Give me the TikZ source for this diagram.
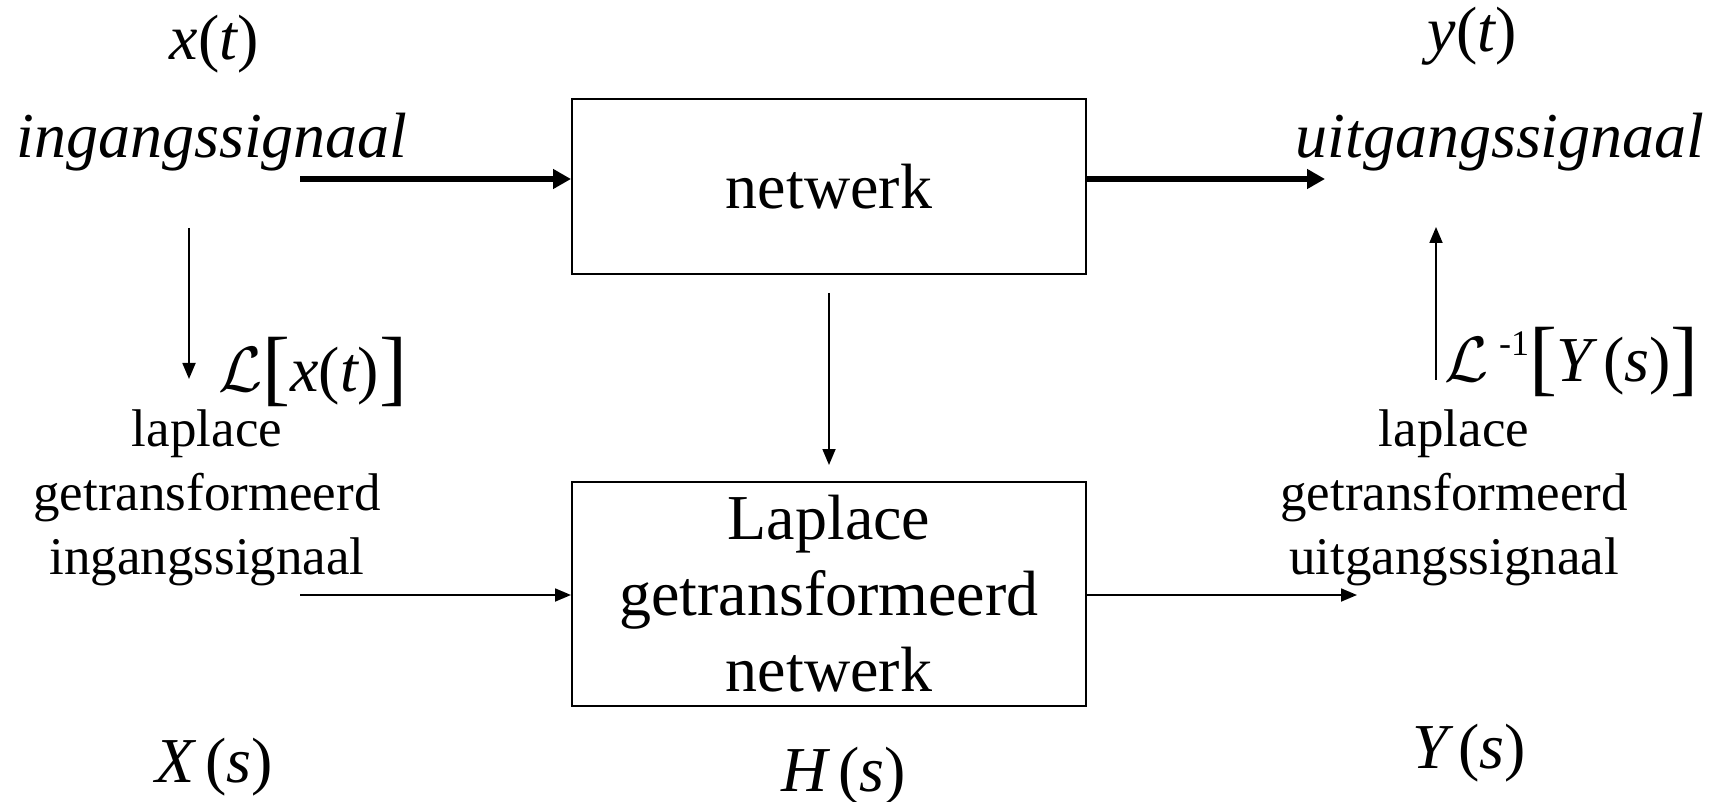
\documentclass[tikz,border=0pt]{standalone}
\usepackage{fix-cm}
\usepackage{fontspec}
\setmainfont{Liberation Serif}
\usetikzlibrary{arrows.meta}
\newcommand{\bigbr}[1]{{\fontsize{84}{84}\selectfont\raisebox{-4pt}{#1}}}
\begin{document}
\begin{tikzpicture}[x=1pt,y=-1pt,
  lbl/.style={font=\fontsize{64}{76}\selectfont, inner sep=0pt},
  side/.style={font=\fontsize{53}{64}\selectfont, align=center, inner sep=0pt},
  blok/.style={draw, line width=2pt, inner sep=0pt, align=center,
               font=\fontsize{64}{76}\selectfont, minimum width=514pt},
  thickarr/.style={line width=5.5pt, -{Triangle[length=18pt,width=19pt]}},
  thinarr/.style={line width=1.8pt, -{Triangle[length=16pt,width=13pt]}}]
\useasboundingbox (0,0) rectangle (1725,802);

% boxes
\node[blok, minimum height=175pt] (net) at (829,186.5) {netwerk};
\node[blok, minimum height=224pt] (lnet) at (829,594) {Laplace\\getransformeerd\\netwerk};

% top labels
\node[lbl] (xt) at (214,44) {\itshape x\upshape(\itshape t\upshape)};
\node[lbl] (insig) at (212,142) {\itshape ingangssignaal};
\node[lbl] (yt) at (1472,36) {\itshape y\upshape(\itshape t\upshape)};
\node[lbl] (uitsig) at (1500,142) {\itshape uitgangssignaal};

% transform labels
\node[lbl, anchor=west] (Lx) at (218,372) {$\mathcal{L}$\bigbr{[}\itshape x\upshape(\itshape t\upshape)\bigbr{]}};
\node[lbl, anchor=west] (Linv) at (1444,362) {$\mathcal{L}$\,{\fontsize{36}{36}\selectfont\raisebox{26pt}{-1}}\bigbr{[}\itshape Y\upshape\,(\itshape s\upshape)\bigbr{]}};

% side descriptions
\node[side] (lin) at (207,498) {laplace\\getransformeerd\\ingangssignaal};
\node[side] (luit) at (1454,498) {laplace\\getransformeerd\\uitgangssignaal};

% bottom labels
\node[lbl] (Xs) at (214,767) {\itshape X\upshape\,(\itshape s\upshape)};
\node[lbl] (Hs) at (844,776) {\itshape H\upshape\,(\itshape s\upshape)};
\node[lbl] (Ys) at (1469,753) {\itshape Y\upshape\,(\itshape s\upshape)};

% free ends
\coordinate (inA) at (300,179);
\coordinate (outA) at (1325,179);
\coordinate (inB) at (300,595);
\coordinate (outB) at (1357,595);
\coordinate (dnS) at (189,228);
\coordinate (dnE) at (189,379);
\coordinate (upS) at (1436,380);
\coordinate (upE) at (1436,227);

% connectors
\draw[thickarr] (inA) -- (net.west |- inA);
\draw[thickarr] (net.east |- outA) -- (outA);
\draw[thinarr] (inB) -- (lnet.west |- inB);
\draw[thinarr] (lnet.east |- outB) -- (outB);
\draw[thinarr, shorten <=18pt, shorten >=16pt] (net.south) -- (lnet.north);
\draw[thinarr] (dnS) -- (dnE);
\draw[thinarr] (upS) -- (upE);
\end{tikzpicture}
\end{document}
